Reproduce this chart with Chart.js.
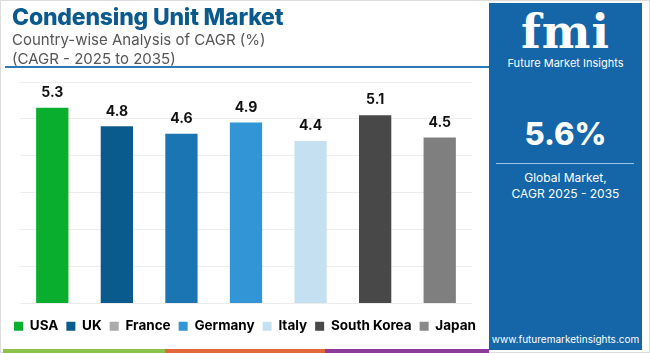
<!DOCTYPE html>
<html>
<head>
<meta charset="utf-8">
<script src="https://cdn.jsdelivr.net/npm/chart.js@4.4.1/dist/chart.umd.min.js"></script>
<style>
  html, body { margin: 0; padding: 0; background: #fff; }
  #page { position: relative; width: 650px; height: 353px; overflow: hidden; font-family: "Inter", "Open Sans", sans-serif; }
  #frame { position: absolute; left: 0; top: 0; width: 648px; height: 351px; border: 1px solid #dcdcdc; }
  #title { position: absolute; left: 12px; top: 3px; font-size: 23px; font-weight: 800; color: #0b5a8e; letter-spacing: -0.2px; }
  #sub1 { position: absolute; left: 12px; top: 30px; font-size: 15px; color: #555; }
  #sub2 { position: absolute; left: 12px; top: 49px; font-size: 15px; color: #555; }
  #rule { position: absolute; left: 5px; top: 66px; width: 485px; height: 2px; background: #2e79b5; }
  #chartBox { position: absolute; left: 0; top: 0; width: 490px; height: 352px; }
  #panel { position: absolute; left: 489px; top: 3px; width: 153px; height: 347px; background: #1466a8; color: #fff; text-align: center; }
  #logo { position: absolute; left: 0; top: 2px; width: 153px; font-family: "DejaVu Serif", serif; font-size: 46px; font-weight: bold; letter-spacing: 1px; }
  #logoSub { position: absolute; left: 0; top: 53px; width: 153px; font-size: 11px; }
  #big { position: absolute; left: 0; top: 112px; width: 153px; font-size: 31px; font-weight: 800; }
  #prule { position: absolute; left: 7px; top: 160px; width: 138px; height: 1px; background: #9cc3e4; }
  #gm { position: absolute; left: 0; top: 167px; width: 153px; font-size: 12px; line-height: 16px; }
  #url { position: absolute; left: 0; top: 330px; width: 153px; font-size: 10px; }
  .strip { position: absolute; top: 349px; height: 4px; }
</style>
</head>
<body>
<div id="page">
  <div id="frame"></div>
  <div id="chartBox"><canvas id="myChart"></canvas></div>
  <div id="title">Condensing Unit Market</div>
  <div id="sub1">Country-wise Analysis of CAGR (%)</div>
  <div id="sub2">(CAGR - 2025 to 2035)</div>
  <div id="rule"></div>
  <div id="panel">
    <div id="logo">fmi</div>
    <div id="logoSub">Future Market Insights</div>
    <div id="big">5.6%</div>
    <div id="prule"></div>
    <div id="gm">Global Market,<br>CAGR 2025 - 2035</div>
    <div id="url">www.futuremarketinsights.com</div>
  </div>
  <div class="strip" style="left:3px;width:162px;background:#8bc34a"></div>
  <div class="strip" style="left:165px;width:160px;background:#e2673a"></div>
  <div class="strip" style="left:325px;width:164px;background:#8e3a9a"></div>
</div>
<script>
const countries = ['USA', 'UK', 'France', 'Germany', 'Italy', 'South Korea', 'Japan'];
const cagrValues = [5.3, 4.8, 4.6, 4.9, 4.4, 5.1, 4.5];
const barColors = ['#0aae2e', '#0b5a8e', '#1b75b0', '#3295d5', '#c5e1f1', '#484848', '#7f7f7f'];
const legendColors = ['#0aae2e', '#0b5a8e', '#aaaaaa', '#3295d5', '#c5e1f1', '#484848', '#8a8a8a'];

const valueLabels = {
  id: 'valueLabels',
  afterDatasetsDraw(chart) {
    const ctx = chart.ctx;
    const meta = chart.getDatasetMeta(0);
    ctx.save();
    ctx.font = 'bold 14px Inter, "Open Sans", sans-serif';
    ctx.fillStyle = '#111';
    ctx.textAlign = 'center';
    ctx.textBaseline = 'middle';
    meta.data.forEach((bar, i) => {
      ctx.fillText(cagrValues[i].toFixed(1), bar.x, bar.y - 15);
    });
    ctx.restore();
  }
};

new Chart(document.getElementById('myChart'), {
  type: 'bar',
  data: {
    labels: countries,
    datasets: [{
      data: cagrValues,
      backgroundColor: barColors,
      categoryPercentage: 1,
      barPercentage: 0.5
    }]
  },
  options: {
    responsive: true,
    maintainAspectRatio: false,
    animation: false,
    layout: { padding: { left: 0, right: 0, top: 82, bottom: 9 } },
    plugins: {
      tooltip: { enabled: false },
      legend: {
        position: 'bottom',
        labels: {
          boxWidth: 9,
          boxHeight: 9,
          padding: 8,
          color: '#111',
          font: { family: 'Inter, "Open Sans", sans-serif', size: 13.5, weight: 'bold' },
          generateLabels: () => countries.map((c, i) => ({
            text: c,
            fillStyle: legendColors[i],
            strokeStyle: legendColors[i],
            lineWidth: 0,
            index: i
          }))
        }
      }
    },
    scales: {
      x: {
        grid: { display: false },
        border: { display: false },
        ticks: { display: false }
      },
      y: {
        min: 0,
        max: 6,
        ticks: { display: false, stepSize: 1 },
        border: { display: false },
        grid: { color: '#ececec', drawTicks: false },
        afterFit: (scale) => { scale.width = 20; }
      },
      yRight: {
        position: 'right',
        display: true,
        ticks: { display: false },
        grid: { display: false },
        border: { display: false },
        afterFit: (scale) => { scale.width = 18; }
      }
    }
  },
  plugins: [valueLabels]
});
</script>
</body>
</html>
